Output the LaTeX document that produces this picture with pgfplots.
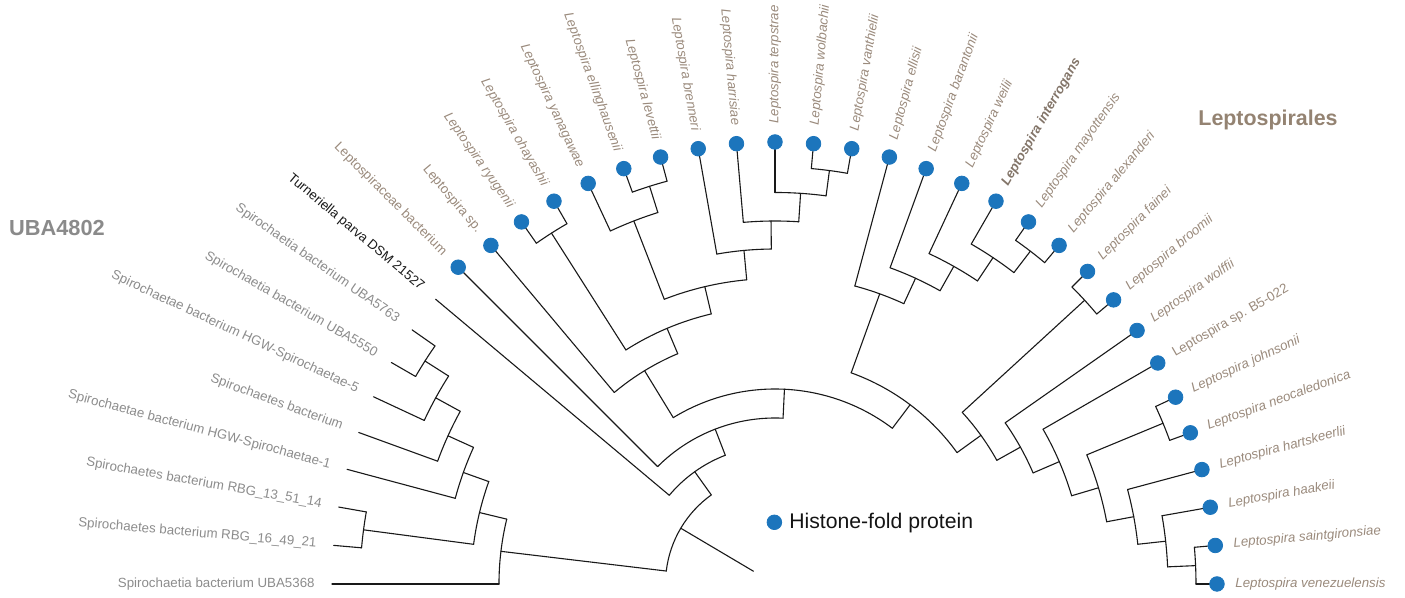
\documentclass[border=0pt]{standalone}
\usepackage{fontspec}
\setmainfont{Liberation Sans}
\usepackage{pgfplots}
\pgfplotsset{compat=1.18}

\definecolor{dotblue}{HTML}{1C75BC}
\definecolor{tipbrown}{HTML}{9A8A7C}
\definecolor{tipgrey}{HTML}{8C8C8C}
\definecolor{leptohead}{HTML}{948372}
\definecolor{ubahead}{HTML}{8A8A8A}

\tikzset{
  branch/.style={black!90, line width=0.55pt, line cap=round},
  tiplab/.style={inner sep=0pt, font=\fontsize{6.65}{8}\selectfont},
}

% radial branch: angle, inner radius, outer radius (1 unit = 0.5pt)
\newcommand{\edge}[3]{\addplot[branch, data cs=polar, forget plot] coordinates {(#1,#2) (#1,#3)};}
% arc of an internal node: radius, first child angle, last child angle
\newcommand{\clade}[3]{\draw[branch] (axis cs:{#1*cos(#2)},{#1*sin(#2)}) arc[start angle=#2, end angle=#3, radius={#1*0.5pt}];}
% tip labels: angle, radius, colour/style, text
\newcommand{\labR}[4]{\node[tiplab, #3, anchor=west, rotate=#1] at (axis cs:{#2*cos(#1)},{#2*sin(#1)}) {#4};}
\newcommand{\labL}[4]{\node[tiplab, #3, anchor=east, rotate=#1-180] at (axis cs:{#2*cos(#1)},{#2*sin(#1)}) {#4};}

\begin{document}
\begin{tikzpicture}
\begin{axis}[
  x=0.5pt, y=0.5pt,
  xmin=-775, xmax=630, ymin=-14, ymax=584,
  hide axis, clip=false, disabledatascaling,
  legend style={at={(axis cs:-8.7,61.7)}, anchor=west, draw=none, fill=none,
    inner sep=0pt, font=\fontsize{10.6}{12}\selectfont, text=black!92,
    cells={anchor=west}, /tikz/every odd column/.style={column sep=1.6pt}},
  legend image code/.code={\fill[dotblue] (0pt,0pt) circle (3.65pt);},
]
\coordinate (bl) at (rel axis cs:0,0);
\coordinate (tr) at (rel axis cs:1,1);

% ---- arcs of internal nodes ----
% UBA4802
\clade{415}{170}{175}
\clade{415}{145}{150}
\clade{387}{147.5}{155}
\clade{359}{151.25}{160}
\clade{331}{155.625}{165}
\clade{304}{160.3125}{172.5}
\clade{276}{166.40625}{180}
% Leptospirales
\clade{416}{120}{125}
\clade{417}{105}{110}
\clade{389.5}{107.5}{115}
\clade{417}{80}{85}
\clade{391.5}{82.5}{90}
\clade{363}{86.25}{95}
\clade{335}{90.625}{100}
\clade{305.5}{95.3125}{111.25}
\clade{277.5}{103.28125}{122.5}
\clade{250}{112.890625}{130}
\clade{419.5}{50}{55}
\clade{392.5}{52.5}{60}
\clade{364.5}{56.25}{65}
\clade{336.5}{60.625}{70}
\clade{308.5}{65.3125}{75}
\clade{420}{40}{45}
\clade{421}{0}{5}
\clade{393}{2.5}{10}
\clade{365}{6.25}{15}
\clade{420}{20}{25}
\clade{337.5}{10.625}{22.5}
\clade{309.5}{16.5625}{30}
\clade{281}{23.28125}{35}
\clade{254}{29.140625}{42.5}
\clade{224.5}{35.8203}{70.15625}
\clade{195}{52.9883}{121.4453}
\clade{166}{87.2168}{135}
\clade{138}{111.1084}{140}
\clade{109.5}{125.5542}{173.203}

% ---- radial branches: internal nodes ----
\edge{172.5}{304}{415}
\edge{147.5}{387}{415}
\edge{151.25}{359}{387}
\edge{155.625}{331}{359}
\edge{160.3125}{304}{331}
\edge{166.40625}{276}{304}
\edge{173.203}{109.5}{276}
\edge{122.5}{277.5}{416}
\edge{107.5}{389.5}{417}
\edge{111.25}{305.5}{389.5}
\edge{82.5}{391.5}{417}
\edge{86.25}{363}{391.5}
\edge{90.625}{335}{363}
\edge{95.3125}{305.5}{335}
\edge{103.28125}{277.5}{305.5}
\edge{112.890625}{250}{277.5}
\edge{121.4453}{195}{250}
\edge{52.5}{392.5}{419.5}
\edge{56.25}{364.5}{392.5}
\edge{60.625}{336.5}{364.5}
\edge{65.3125}{308.5}{336.5}
\edge{70.15625}{224.5}{308.5}
\edge{42.5}{254}{420}
\edge{2.5}{393}{421}
\edge{6.25}{365}{393}
\edge{10.625}{337.5}{365}
\edge{22.5}{337.5}{420}
\edge{16.5625}{309.5}{337.5}
\edge{23.28125}{281}{309.5}
\edge{29.140625}{254}{281}
\edge{35.8203}{224.5}{254}
\edge{52.9883}{195}{224.5}
\edge{87.2168}{166}{195}
\edge{111.1084}{138}{166}
\edge{125.5542}{109.5}{138}
\edge{149.379}{25}{109.5}

% ---- radial branches: tips ----
\edge{180}{276}{443}
\edge{175}{415}{443}
\edge{170}{415}{443}
\edge{165}{331}{443}
\edge{160}{359}{443}
\edge{155}{387}{443}
\edge{150}{415}{443}
\edge{145}{415}{443}
\edge{140}{138}{443}
\edge{135}{166}{448}
\edge{130}{250}{442}
\edge{125}{416}{442}
\edge{120}{416}{442}
\edge{115}{389.5}{442}
\edge{110}{417}{442}
\edge{105}{417}{442}
\edge{100}{335}{442}
\edge{95}{363}{442}
\edge{90}{391.5}{442}
\edge{85}{417}{442}
\edge{80}{417}{442}
\edge{75}{308.5}{442}
\edge{70}{336.5}{442}
\edge{65}{364.5}{442}
\edge{60}{392.5}{442}
\edge{55}{419.5}{442}
\edge{50}{419.5}{442}
\edge{45}{420}{442}
\edge{40}{420}{442}
\edge{35}{281}{442}
\edge{30}{309.5}{442}
\edge{25}{420}{442}
\edge{20}{420}{442}
\edge{15}{365}{442}
\edge{10}{393}{442}
\edge{5}{421}{442}
\edge{0}{421}{442}

% ---- tips carrying a histone-fold protein ----
\addplot[color=dotblue, only marks, mark=*, mark size=3.65pt,
         mark options={draw=none, fill=dotblue}, data cs=polar]
  coordinates {(135,448) (130,442) (125,442) (120,442) (115,442) (110,442) (105,442)
               (100,442) (95,442) (90,442) (85,442) (80,442) (75,442) (70,442) (65,442)
               (60,442) (55,442) (50,442) (45,442) (40,442) (35,442) (30,442) (25,442)
               (20,442) (15,442) (10,442) (5,442) (0,442)};
\addlegendentry{Histone-fold protein}

% ---- tip labels ----
\labL{180}{460}{text=tipgrey}{Spirochaetia bacterium UBA5368}
\labL{175}{460}{text=tipgrey}{Spirochaetes bacterium RBG\_16\_49\_21}
\labL{170}{460}{text=tipgrey}{Spirochaetes bacterium RBG\_13\_51\_14}
\labL{165}{460}{text=tipgrey}{Spirochaetae bacterium HGW-Spirochaetae-1}
\labL{160}{460}{text=tipgrey}{Spirochaetes bacterium}
\labL{155}{460}{text=tipgrey}{Spirochaetae bacterium HGW-Spirochaetae-5}
\labL{150}{460}{text=tipgrey}{Spirochaetia bacterium UBA5550}
\labL{145}{460}{text=tipgrey}{Spirochaetia bacterium UBA5763}
\labL{140}{460}{text=black!90}{Turneriella parva DSM 21527}
\labL{135}{467}{text=tipbrown}{Leptospiraceae bacterium}
\labL{130}{460}{text=tipbrown}{Leptospira sp.}
\labL{125}{460}{text=tipbrown}{\itshape Leptospira ryugenii}
\labL{120}{460}{text=tipbrown}{\itshape Leptospira ohayashii}
\labL{115}{460}{text=tipbrown}{\itshape Leptospira yanagawae}
\labL{110}{460}{text=tipbrown}{\itshape Leptospira ellinghausenii}
\labL{105}{460}{text=tipbrown}{\itshape Leptospira levettii}
\labL{100}{460}{text=tipbrown}{\itshape Leptospira brenneri}
\labL{95}{460}{text=tipbrown}{\itshape Leptospira harrisiae}
\labR{90}{460}{text=tipbrown}{\itshape Leptospira terpstrae}
\labR{85}{460}{text=tipbrown}{\itshape Leptospira wolbachii}
\labR{80}{460}{text=tipbrown}{\itshape Leptospira vanthielii}
\labR{75}{460}{text=tipbrown}{\itshape Leptospira ellisii}
\labR{70}{460}{text=tipbrown}{\itshape Leptospira barantonii}
\labR{65}{460}{text=tipbrown}{\itshape Leptospira weilii}
\labR{60}{460}{text=tipbrown!85!black}{\bfseries\itshape Leptospira interrogans}
\labR{55}{460}{text=tipbrown}{\itshape Leptospira mayottensis}
\labR{50}{460}{text=tipbrown}{\itshape Leptospira alexanderi}
\labR{45}{460}{text=tipbrown}{\itshape Leptospira fainei}
\labR{40}{460}{text=tipbrown}{\itshape Leptospira broomii}
\labR{35}{460}{text=tipbrown}{\itshape Leptospira wolffii}
\labR{30}{460}{text=tipbrown}{Leptospira sp. B5-022}
\labR{25}{460}{text=tipbrown}{\itshape Leptospira johnsonii}
\labR{20}{460}{text=tipbrown}{\itshape Leptospira neocaledonica}
\labR{15}{460}{text=tipbrown}{\itshape Leptospira hartskeerlii}
\labR{10}{460}{text=tipbrown}{\itshape Leptospira haakeii}
\labR{5}{460}{text=tipbrown}{\itshape Leptospira saintgironsiae}
\labR{0}{460}{text=tipbrown}{\itshape Leptospira venezuelensis}

% ---- clade names ----
\node[font=\fontsize{10.9}{13}\selectfont\bfseries, text=ubahead] at (axis cs:-718,356) {UBA4802};
\node[font=\fontsize{10.7}{13}\selectfont\bfseries, text=leptohead] at (axis cs:493,464) {Leptospirales};
\end{axis}
\pgfresetboundingbox
\useasboundingbox (bl) rectangle (tr);
\end{tikzpicture}
\end{document}
